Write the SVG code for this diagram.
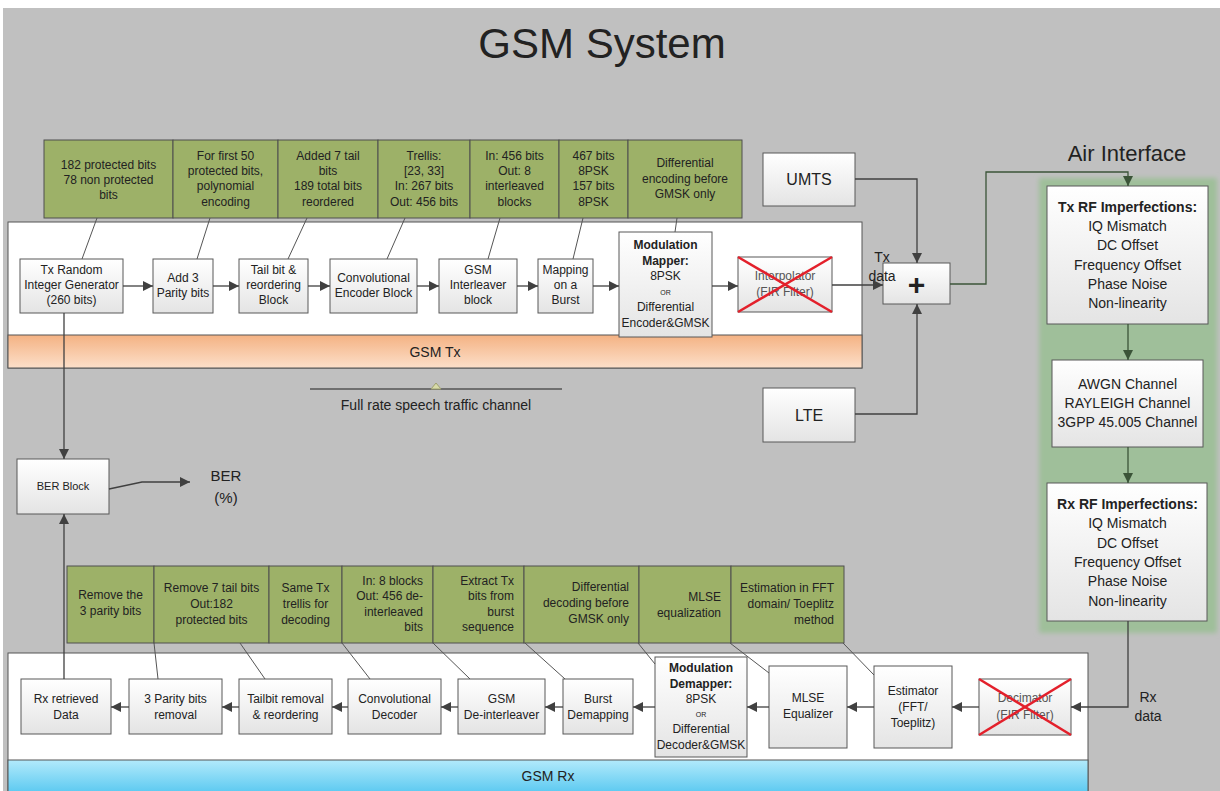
<svg xmlns="http://www.w3.org/2000/svg" width="1220" height="791" viewBox="0 0 1220 791">
  <defs>
    <linearGradient id="boxGrad" x1="0" y1="0" x2="0" y2="1">
      <stop offset="0" stop-color="#ffffff"/>
      <stop offset="1" stop-color="#e4e4e4"/>
    </linearGradient>
    <linearGradient id="txBand" x1="0" y1="0" x2="0" y2="1">
      <stop offset="0" stop-color="#f4b283"/>
      <stop offset="1" stop-color="#fcdfc9"/>
    </linearGradient>
    <linearGradient id="rxBand" x1="0" y1="0" x2="0" y2="1">
      <stop offset="0" stop-color="#b2eafb"/>
      <stop offset="1" stop-color="#4ec4ef"/>
    </linearGradient>
    <filter id="soft" x="-10%" y="-5%" width="120%" height="110%">
      <feGaussianBlur stdDeviation="2.5"/>
    </filter>
    <marker id="arr" markerUnits="userSpaceOnUse" markerWidth="11" markerHeight="10" refX="10" refY="5" orient="auto">
      <path d="M0,0 L10,5 L0,10 z" fill="#404040"/>
    </marker>
    <marker id="arrG" markerUnits="userSpaceOnUse" markerWidth="11" markerHeight="10" refX="10" refY="5" orient="auto">
      <path d="M0,0 L10,5 L0,10 z" fill="#3b5438"/>
    </marker>
  </defs>
  <style>
    text { font-family: "Liberation Sans", Arial, sans-serif; fill: #222; }
    .t { font-size: 12px; text-anchor: middle; }
    .te { font-size: 12px; text-anchor: end; }
    .b { font-weight: bold; }
    .or { font-size: 7px; text-anchor: middle; }
    .rf { font-size: 14px; text-anchor: middle; }
    .lab { font-size: 14px; text-anchor: middle; }
    .box { fill: url(#boxGrad); stroke: #585858; stroke-width: 1; }
    .note { fill: #9db168; stroke: #4f4f4f; stroke-width: 1; }
    .lead { stroke: #555; stroke-width: 1; fill: none; }
    .flow { stroke: #404040; stroke-width: 1.3; fill: none; marker-end: url(#arr); }
    .flowG { stroke: #3b5438; stroke-width: 1.3; fill: none; marker-end: url(#arrG); }
    .cross { stroke: #e3202b; stroke-width: 2.5; }
    .faded { fill: #555; }
  </style>

  <!-- canvas -->
  <rect x="0" y="0" width="1220" height="791" fill="#ffffff"/>
  <rect x="3" y="8" width="1217" height="783" fill="#c0c0c0"/>

  <text x="602" y="58" font-size="42" text-anchor="middle" fill="#111">GSM System</text>

  <!-- transmitter panel -->
  <g id="gsm-tx-panel">
    <rect x="8" y="222" width="854" height="146" fill="#ffffff" stroke="#555"/>
    <rect x="8" y="335" width="854" height="33" fill="url(#txBand)" stroke="#555"/>
    <text x="435" y="357" font-size="14" text-anchor="middle">GSM Tx</text>
  </g>

  <!-- receiver panel -->
  <g id="gsm-rx-panel">
    <rect x="8" y="653" width="1080" height="145" fill="#ffffff" stroke="#555"/>
    <rect x="8" y="760" width="1080" height="38" fill="url(#rxBand)" stroke="#555"/>
    <text x="548" y="781" font-size="14" text-anchor="middle">GSM Rx</text>
  </g>

  <!-- air interface panel -->
  <g id="air-interface">
    <rect x="1039" y="178" width="178" height="455" fill="#9fbf9a" filter="url(#soft)"/>
    <text x="1127" y="161" font-size="22" text-anchor="middle">Air Interface</text>
  </g>

  <!-- Tx notes -->
  <g id="note-tx1">
    <rect class="note" x="44" y="140" width="129" height="78"/>
    <text class="t" x="108.5" y="169">182 protected bits</text>
    <text class="t" x="108.5" y="184">78 non protected</text>
    <text class="t" x="108.5" y="199">bits</text>
  </g>
  <g id="note-tx2">
    <rect class="note" x="173" y="140" width="105" height="78"/>
    <text class="t" x="225.5" y="160">For first 50</text>
    <text class="t" x="225.5" y="175">protected bits,</text>
    <text class="t" x="225.5" y="190">polynomial</text>
    <text class="t" x="225.5" y="206">encoding</text>
  </g>
  <g id="note-tx3">
    <rect class="note" x="278" y="140" width="100" height="78"/>
    <text class="t" x="328" y="160">Added 7 tail</text>
    <text class="t" x="328" y="175">bits</text>
    <text class="t" x="328" y="190">189 total bits</text>
    <text class="t" x="328" y="206">reordered</text>
  </g>
  <g id="note-tx4">
    <rect class="note" x="378" y="140" width="92" height="78"/>
    <text class="t" x="424" y="160">Trellis:</text>
    <text class="t" x="424" y="175">[23, 33]</text>
    <text class="t" x="424" y="190">In: 267 bits</text>
    <text class="t" x="424" y="206">Out: 456 bits</text>
  </g>
  <g id="note-tx5">
    <rect class="note" x="470" y="140" width="89" height="78"/>
    <text class="t" x="514.5" y="160">In: 456 bits</text>
    <text class="t" x="514.5" y="175">Out: 8</text>
    <text class="t" x="514.5" y="190">interleaved</text>
    <text class="t" x="514.5" y="206">blocks</text>
  </g>
  <g id="note-tx6">
    <rect class="note" x="559" y="140" width="69" height="78"/>
    <text class="t" x="593.5" y="160">467 bits</text>
    <text class="t" x="593.5" y="175">8PSK</text>
    <text class="t" x="593.5" y="190">157 bits</text>
    <text class="t" x="593.5" y="206">8PSK</text>
  </g>
  <g id="note-tx7">
    <rect class="note" x="628" y="140" width="114" height="78"/>
    <text class="t" x="685" y="167">Differential</text>
    <text class="t" x="685" y="183">encoding before</text>
    <text class="t" x="685" y="198">GMSK only</text>
  </g>

  <!-- Tx blocks -->
  <g id="tx-random">
    <rect class="box" x="20" y="259" width="103" height="54"/>
    <text class="t" x="71.5" y="274">Tx Random</text>
    <text class="t" x="71.5" y="289">Integer Generator</text>
    <text class="t" x="71.5" y="304">(260 bits)</text>
  </g>
  <g id="add-parity">
    <rect class="box" x="153" y="259" width="60" height="54"/>
    <text class="t" x="183" y="282">Add 3</text>
    <text class="t" x="183" y="297">Parity bits</text>
  </g>
  <g id="tail-bit">
    <rect class="box" x="239" y="259" width="69" height="54"/>
    <text class="t" x="273.5" y="274">Tail bit &amp;</text>
    <text class="t" x="273.5" y="289">reordering</text>
    <text class="t" x="273.5" y="304">Block</text>
  </g>
  <g id="conv-encoder">
    <rect class="box" x="330" y="259" width="87" height="54"/>
    <text class="t" x="373.5" y="282">Convolutional</text>
    <text class="t" x="373.5" y="297">Encoder Block</text>
  </g>
  <g id="interleaver">
    <rect class="box" x="439" y="259" width="78" height="54"/>
    <text class="t" x="478" y="274">GSM</text>
    <text class="t" x="478" y="289">Interleaver</text>
    <text class="t" x="478" y="304">block</text>
  </g>
  <g id="burst-mapping">
    <rect class="box" x="538" y="259" width="55" height="54"/>
    <text class="t" x="565.5" y="274">Mapping</text>
    <text class="t" x="565.5" y="289">on a</text>
    <text class="t" x="565.5" y="304">Burst</text>
  </g>
  <g id="mod-mapper">
    <rect class="box" x="619" y="232" width="93" height="105"/>
    <text class="t b" x="665.5" y="249">Modulation</text>
    <text class="t b" x="665.5" y="265">Mapper:</text>
    <text class="t" x="665.5" y="280">8PSK</text>
    <text class="or" x="665.5" y="295">OR</text>
    <text class="t" x="665.5" y="311">Differential</text>
    <text class="t" x="665.5" y="327">Encoder&amp;GMSK</text>
  </g>
  <g id="interpolator">
    <rect class="box" x="738" y="257" width="94" height="55"/>
    <text class="t faded" x="785" y="280">Interpolator</text>
    <text class="t faded" x="785" y="296">(FIR Filter)</text>
    <line class="cross" x1="738" y1="257" x2="832" y2="312"/>
    <line class="cross" x1="738" y1="312" x2="832" y2="257"/>
  </g>

  <!-- sources and combiner -->
  <g id="umts">
    <rect class="box" x="763" y="153" width="92" height="53"/>
    <text x="809" y="185" font-size="16" text-anchor="middle">UMTS</text>
  </g>
  <g id="lte">
    <rect class="box" x="763" y="388" width="92" height="54"/>
    <text x="809" y="421" font-size="16" text-anchor="middle">LTE</text>
  </g>
  <g id="combiner">
    <rect class="box" x="883" y="263" width="67" height="41"/>
    <text x="916.5" y="295" font-size="30" font-weight="bold" text-anchor="middle" fill="#333">+</text>
  </g>

  <!-- channel chain -->
  <g id="tx-rf">
    <rect class="box" x="1047" y="186" width="161" height="138"/>
    <text class="rf b" x="1127.5" y="212">Tx RF Imperfections:</text>
    <text class="rf" x="1127.5" y="231">IQ Mismatch</text>
    <text class="rf" x="1127.5" y="250">DC Offset</text>
    <text class="rf" x="1127.5" y="270">Frequency Offset</text>
    <text class="rf" x="1127.5" y="289">Phase Noise</text>
    <text class="rf" x="1127.5" y="308">Non-linearity</text>
  </g>
  <g id="channel">
    <rect class="box" x="1052" y="360" width="151" height="87"/>
    <text class="rf" x="1127.5" y="389">AWGN Channel</text>
    <text class="rf" x="1127.5" y="408">RAYLEIGH Channel</text>
    <text class="rf" x="1127.5" y="427">3GPP 45.005 Channel</text>
  </g>
  <g id="rx-rf">
    <rect class="box" x="1047" y="483" width="160" height="138"/>
    <text class="rf b" x="1127.5" y="509">Rx RF Imperfections:</text>
    <text class="rf" x="1127.5" y="528">IQ Mismatch</text>
    <text class="rf" x="1127.5" y="548">DC Offset</text>
    <text class="rf" x="1127.5" y="567">Frequency Offset</text>
    <text class="rf" x="1127.5" y="586">Phase Noise</text>
    <text class="rf" x="1127.5" y="606">Non-linearity</text>
  </g>

  <!-- BER -->
  <g id="ber-block">
    <rect class="box" x="17" y="459" width="92" height="55"/>
    <text x="63" y="490" font-size="11" text-anchor="middle">BER Block</text>
  </g>
  <g id="ber-output">
    <text x="226" y="481" font-size="15" text-anchor="middle">BER</text>
    <text x="226" y="503" font-size="15" text-anchor="middle">(%)</text>
  </g>

  <!-- channel type annotation -->
  <g id="speech-channel">
    <line x1="310" y1="389" x2="562" y2="389" stroke="#555" stroke-width="1.3"/>
    <polygon points="431,389 436,383 441,389" fill="#d8dba8" stroke="#9ea070" stroke-width="1"/>
    <text x="436" y="410" font-size="14" text-anchor="middle" fill="#333">Full rate speech traffic channel</text>
  </g>

  <!-- Rx notes -->
  <g id="note-rx1">
    <rect class="note" x="67" y="566" width="87" height="77"/>
    <text class="t" x="110.5" y="599">Remove the</text>
    <text class="t" x="110.5" y="615">3 parity bits</text>
  </g>
  <g id="note-rx2">
    <rect class="note" x="154" y="566" width="115" height="77"/>
    <text class="t" x="211.5" y="592">Remove 7 tail bits</text>
    <text class="t" x="211.5" y="608">Out:182</text>
    <text class="t" x="211.5" y="624">protected bits</text>
  </g>
  <g id="note-rx3">
    <rect class="note" x="269" y="566" width="73" height="77"/>
    <text class="t" x="305.5" y="592">Same Tx</text>
    <text class="t" x="305.5" y="608">trellis for</text>
    <text class="t" x="305.5" y="624">decoding</text>
  </g>
  <g id="note-rx4">
    <rect class="note" x="342" y="566" width="91" height="77"/>
    <text class="te" x="423" y="585">In: 8 blocks</text>
    <text class="te" x="423" y="600">Out: 456 de-</text>
    <text class="te" x="423" y="616">interleaved</text>
    <text class="te" x="423" y="631">bits</text>
  </g>
  <g id="note-rx5">
    <rect class="note" x="433" y="566" width="91" height="77"/>
    <text class="te" x="514" y="585">Extract Tx</text>
    <text class="te" x="514" y="600">bits from</text>
    <text class="te" x="514" y="616">burst</text>
    <text class="te" x="514" y="631">sequence</text>
  </g>
  <g id="note-rx6">
    <rect class="note" x="524" y="566" width="115" height="77"/>
    <text class="te" x="629" y="591">Differential</text>
    <text class="te" x="629" y="607">decoding before</text>
    <text class="te" x="629" y="623">GMSK only</text>
  </g>
  <g id="note-rx7">
    <rect class="note" x="639" y="566" width="92" height="77"/>
    <text class="te" x="721" y="601">MLSE</text>
    <text class="te" x="721" y="617">equalization</text>
  </g>
  <g id="note-rx8">
    <rect class="note" x="731" y="566" width="113" height="77"/>
    <text class="te" x="834" y="592">Estimation in FFT</text>
    <text class="te" x="834" y="608">domain/ Toeplitz</text>
    <text class="te" x="834" y="624">method</text>
  </g>

  <!-- Rx blocks -->
  <g id="rx-data">
    <rect class="box" x="21" y="679" width="90" height="55"/>
    <text class="t" x="66" y="703">Rx retrieved</text>
    <text class="t" x="66" y="719">Data</text>
  </g>
  <g id="parity-removal">
    <rect class="box" x="129" y="679" width="93" height="55"/>
    <text class="t" x="175.5" y="703">3 Parity bits</text>
    <text class="t" x="175.5" y="719">removal</text>
  </g>
  <g id="tailbit-removal">
    <rect class="box" x="239" y="679" width="93" height="55"/>
    <text class="t" x="285.5" y="703">Tailbit removal</text>
    <text class="t" x="285.5" y="719">&amp; reordering</text>
  </g>
  <g id="conv-decoder">
    <rect class="box" x="348" y="679" width="93" height="55"/>
    <text class="t" x="394.5" y="703">Convolutional</text>
    <text class="t" x="394.5" y="719">Decoder</text>
  </g>
  <g id="deinterleaver">
    <rect class="box" x="458" y="679" width="87" height="55"/>
    <text class="t" x="501.5" y="703">GSM</text>
    <text class="t" x="501.5" y="719">De-interleaver</text>
  </g>
  <g id="burst-demapping">
    <rect class="box" x="563" y="679" width="70" height="55"/>
    <text class="t" x="598" y="703">Burst</text>
    <text class="t" x="598" y="719">Demapping</text>
  </g>
  <g id="mod-demapper">
    <rect class="box" x="655" y="657" width="92" height="100"/>
    <text class="t b" x="701" y="672">Modulation</text>
    <text class="t b" x="701" y="688">Demapper:</text>
    <text class="t" x="701" y="703">8PSK</text>
    <text class="or" x="701" y="717">OR</text>
    <text class="t" x="701" y="733">Differential</text>
    <text class="t" x="701" y="749">Decoder&amp;GMSK</text>
  </g>
  <g id="mlse">
    <rect class="box" x="769" y="666" width="78" height="82"/>
    <text class="t" x="808" y="702">MLSE</text>
    <text class="t" x="808" y="718">Equalizer</text>
  </g>
  <g id="estimator">
    <rect class="box" x="874" y="666" width="78" height="82"/>
    <text class="t" x="913" y="695">Estimator</text>
    <text class="t" x="913" y="711">(FFT/</text>
    <text class="t" x="913" y="727">Toeplitz)</text>
  </g>
  <g id="decimator">
    <rect class="box" x="979" y="679" width="92" height="56"/>
    <text class="t faded" x="1025" y="702">Decimator</text>
    <text class="t faded" x="1025" y="719">(FIR Filter)</text>
    <line class="cross" x1="979" y1="679" x2="1071" y2="735"/>
    <line class="cross" x1="979" y1="735" x2="1071" y2="679"/>
  </g>

  <!-- connectors -->
  <g id="connectors">
    <!-- note leaders, Tx side -->
    <path class="lead" d="M97,218 L82,259"/>
    <path class="lead" d="M210,218 L197,259"/>
    <path class="lead" d="M307,218 L288,259"/>
    <path class="lead" d="M405,218 L387,259"/>
    <path class="lead" d="M500,218 L488,259"/>
    <path class="lead" d="M583,218 L573,259"/>
    <path class="lead" d="M677,218 L675,232"/>
    <!-- note leaders, Rx side -->
    <path class="lead" d="M154,643 L158,679"/>
    <path class="lead" d="M240,643 L265,679"/>
    <path class="lead" d="M342,643 L370,679"/>
    <path class="lead" d="M433,643 L470,679"/>
    <path class="lead" d="M525,643 L565,679"/>
    <path class="lead" d="M638,643 L655,664"/>
    <path class="lead" d="M730,643 L769,673"/>
    <path class="lead" d="M843,643 L874,675"/>

    <!-- Tx chain -->
    <path class="flow" d="M123,286 H153"/>
    <path class="flow" d="M213,286 H239"/>
    <path class="flow" d="M308,286 H330"/>
    <path class="flow" d="M417,286 H439"/>
    <path class="flow" d="M517,286 H538"/>
    <path class="flow" d="M593,286 H619"/>
    <path class="flow" d="M712,286 H738"/>
    <path class="flow" d="M832,285 H883"/>
    <text class="lab" x="882" y="262">Tx</text>
    <text class="lab" x="882" y="281">data</text>

    <!-- other systems into the combiner -->
    <path class="flow" d="M855,179 H917 V263"/>
    <path class="flow" d="M855,414 H917 V304"/>

    <!-- combiner through the air interface -->
    <path class="flowG" d="M950,284 H986 V172 H1128 V186"/>
    <path class="flowG" d="M1128,324 V360"/>
    <path class="flowG" d="M1128,447 V483"/>
    <path class="flow" d="M1128,621 V707 H1071"/>
    <text class="lab" x="1148" y="702">Rx</text>
    <text class="lab" x="1148" y="721">data</text>

    <!-- Rx chain -->
    <path class="flow" d="M979,707 H952"/>
    <path class="flow" d="M874,707 H847"/>
    <path class="flow" d="M769,707 H747"/>
    <path class="flow" d="M655,707 H633"/>
    <path class="flow" d="M563,707 H545"/>
    <path class="flow" d="M458,707 H441"/>
    <path class="flow" d="M348,707 H332"/>
    <path class="flow" d="M239,707 H222"/>
    <path class="flow" d="M129,707 H111"/>

    <!-- BER comparison -->
    <path class="flow" d="M64,313 V459"/>
    <path class="flow" d="M64,679 V514"/>
    <path class="flow" d="M109,489 L142,482 H190"/>
  </g>
</svg>
